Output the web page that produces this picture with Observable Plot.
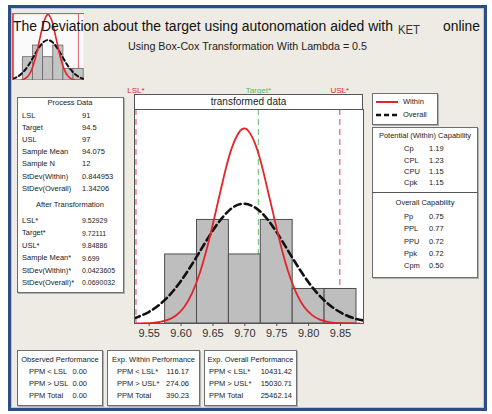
<!DOCTYPE html>
<html><head><meta charset="utf-8">
<script src="https://cdn.jsdelivr.net/npm/d3@7"></script>
<script src="https://cdn.jsdelivr.net/npm/@observablehq/plot@0.6"></script>
<style>
body{margin:0;background:#fff;font-family:"Liberation Sans",Arial,sans-serif;}
#root{position:relative;width:492px;height:414px;overflow:hidden;background:#fff;}
.panel{position:absolute;background:#fff;border:1px solid #6e6e6e;box-sizing:border-box;box-shadow:1px 1px 0 #b0b0b0;}
.t{position:absolute;white-space:nowrap;color:#222;line-height:1;}
</style></head><body><div id="root"></div>
<script>
// ---------- data ----------
const titleText = "The Deviation about the target using autonomation aided with";
const ketText = "KET";
const onlineText = "online";
const subtitleText = "Using Box-Cox Transformation With Lambda = 0.5";
const stripText = "transformed data";

const binCenters = [9.60, 9.65, 9.70, 9.75, 9.80, 9.85];
const binCounts = [2, 3, 2, 3, 1, 1];
const binWidth = 0.05;
const xTicks = [9.55, 9.60, 9.65, 9.70, 9.75, 9.80, 9.85];

const specNames = ["LSL*", "Target*", "USL*"];
const specValues = [9.52929, 9.72111, 9.84886];

const withinX = [9.530, 9.5425, 9.555, 9.5675, 9.580, 9.5925, 9.605, 9.6175, 9.630, 9.6425, 9.655, 9.6675, 9.680, 9.6925, 9.699, 9.705, 9.7175, 9.730, 9.7425, 9.755, 9.7675, 9.780, 9.7925, 9.805, 9.8175, 9.830, 9.8425, 9.855, 9.8675, 9.880];
const withinY = [0.00, 0.01, 0.02, 0.05, 0.11, 0.24, 0.48, 0.89, 1.50, 2.32, 3.29, 4.29, 5.11, 5.58, 5.65, 5.59, 5.14, 4.32, 3.34, 2.36, 1.53, 0.91, 0.49, 0.25, 0.11, 0.05, 0.02, 0.01, 0.00, 0.00];
const overallX = [9.525, 9.550, 9.575, 9.600, 9.625, 9.650, 9.675, 9.699, 9.725, 9.750, 9.775, 9.800, 9.825, 9.850, 9.875, 9.900];
const overallY = [0.14, 0.34, 0.69, 1.24, 1.95, 2.70, 3.27, 3.47, 3.23, 2.64, 1.89, 1.19, 0.66, 0.32, 0.13, 0.05];

const legendNames = ["Within", "Overall"];

const processTitle = "Process Data";
const processLabels = ["LSL", "Target", "USL", "Sample Mean", "Sample N", "StDev(Within)", "StDev(Overall)"];
const processValues = ["91", "94.5", "97", "94.075", "12", "0.844953", "1.34206"];
const transTitle = "After Transformation";
const transLabels = ["LSL*", "Target*", "USL*", "Sample Mean*", "StDev(Within)*", "StDev(Overall)*"];
const transValues = ["9.52929", "9.72111", "9.84886", "9.699", "0.0423605", "0.0690032"];

const potentialTitle = "Potential (Within) Capability";
const potentialLabels = ["Cp", "CPL", "CPU", "Cpk"];
const potentialValues = ["1.19", "1.23", "1.15", "1.15"];
const overallCapTitle = "Overall Capability";
const overallCapLabels = ["Pp", "PPL", "PPU", "Ppk", "Cpm"];
const overallCapValues = ["0.75", "0.77", "0.72", "0.72", "0.50"];

const perfTitles = ["Observed Performance", "Exp. Within Performance", "Exp. Overall Performance"];
const perfLabels = [
  ["PPM < LSL", "PPM > USL", "PPM Total"],
  ["PPM < LSL*", "PPM > USL*", "PPM Total"],
  ["PPM < LSL*", "PPM > USL*", "PPM Total"]
];
const perfValues = [
  ["0.00", "0.00", "0.00"],
  ["116.17", "274.06", "390.23"],
  ["10431.42", "15030.71", "25462.14"]
];

// ---------- helpers ----------
const root = document.getElementById("root");
function place(el, x, y, z) { el.style.position = "absolute"; el.style.left = x + "px"; el.style.top = y + "px"; if (z) el.style.zIndex = z; root.appendChild(el); return el; }
function box(x, y, w, h) { const d = document.createElement("div"); d.className = "panel"; d.style.width = w + "px"; d.style.height = h + "px"; return place(d, x, y); }
function txt(x, y, s, o = {}) {
  const size = o.size || 8;
  const d = document.createElement("div"); d.className = "t"; d.textContent = s;
  d.style.fontSize = size + "px"; d.style.color = o.color || "#222";
  const tx = o.anchor === "middle" ? "-50%" : o.anchor === "end" ? "-100%" : "0";
  d.style.transform = `translate(${tx},0)`;
  place(d, x, y - size * 0.55, o.z || 5);
  return d;
}

// outer frame
const frame = document.createElement("div");
frame.style.cssText = "width:479px;height:406px;box-sizing:border-box;border:3px solid #2D4E85;background:#EDEBE4;box-shadow:inset 0 0 0 1px #B8C6DD;";
place(frame, 8, 5);

// data objects
const bins = binCenters.map((c, i) => ({x1: c - binWidth / 2, x2: c + binWidth / 2, count: binCounts[i]}));
const within = withinX.map((x, i) => ({x, y: withinY[i]}));
const overall = overallX.map((x, i) => ({x, y: overallY[i]}));
const specs = specNames.map((name, i) => ({name, v: specValues[i]}));
const limits = specs.filter(d => d.name !== "Target*");
const target = specs.filter(d => d.name === "Target*");
const RED = "#E3242B", PINK = "#E0606C", GREEN = "#5DBB63";

// ---------- thumbnail ----------
const thumb = Plot.plot({
  width: 72, height: 67, margin: 0,
  x: {domain: [9.524, 9.879], axis: null},
  y: {domain: [0, 5.75], axis: null},
  style: {background: "transparent"},
  marks: [
    Plot.frame({fill: "#fafafa"}),
    Plot.ruleX(limits, {x: "v", stroke: PINK, strokeWidth: 1}),
    Plot.rectY(bins, {x1: "x1", x2: "x2", y: "count", fill: "#C4C4C4", stroke: "#666", strokeWidth: 0.8}),
    Plot.line(overall, {x: "x", y: "y", stroke: "#111", strokeWidth: 2, strokeDasharray: "4,3", curve: "natural", clip: true}),
    Plot.line(within, {x: "x", y: "y", stroke: RED, strokeWidth: 1.6, curve: "natural", clip: true}),
    Plot.frame({stroke: "#D9534F", strokeWidth: 1.2})
  ]
});
place(thumb, 12, 13, 2);

// ---------- title ----------
const ns = "http://www.w3.org/2000/svg";
const tsvg = document.createElementNS(ns, "svg");
tsvg.setAttribute("width", 492); tsvg.setAttribute("height", 60);
function stext(x, y, s, size, len, anchor, fill, weight) {
  const t = document.createElementNS(ns, "text");
  t.setAttribute("x", x); t.setAttribute("y", y);
  t.setAttribute("font-size", size); t.setAttribute("font-family", "Liberation Sans, Arial, sans-serif");
  t.setAttribute("fill", fill || "#111");
  if (weight) t.setAttribute("font-weight", weight);
  if (anchor) t.setAttribute("text-anchor", anchor);
  if (len) { t.setAttribute("textLength", len); t.setAttribute("lengthAdjust", "spacingAndGlyphs"); }
  t.textContent = s; tsvg.appendChild(t);
}
stext(13, 31, titleText, 14, 380, null, "#111", 500);
stext(398, 34, ketText, 12, 22, null, "#333");
stext(443, 31, onlineText, 14, 37, null, "#111", 500);
stext(128, 50, subtitleText, 10, 239, null, "#222");
place(tsvg, 0, 0, 6);

// ---------- main chart ----------
const main = Plot.plot({
  width: 250, height: 270,
  marginLeft: 10, marginRight: 11, marginTop: 31, marginBottom: 25,
  x: {domain: [9.527, 9.886]},
  y: {domain: [0, 6.2], axis: null},
  style: {fontFamily: "Liberation Sans, Arial, sans-serif", background: "transparent", overflow: "visible"},
  marks: [
    Plot.frame({fill: "#fff"}),
    Plot.ruleX(limits, {x: "v", stroke: PINK, strokeDasharray: "6,4", strokeWidth: 1.2}),
    Plot.ruleX(target, {x: "v", stroke: GREEN, strokeDasharray: "6,4", strokeWidth: 1}),
    Plot.rectY(bins, {x1: "x1", x2: "x2", y: "count", fill: "#BEBEBE", stroke: "#4d4d4d", strokeWidth: 1}),
    Plot.line(overall, {x: "x", y: "y", stroke: "#111", strokeWidth: 2.6, strokeDasharray: "7,4", curve: "natural", clip: true}),
    Plot.line(within, {x: "x", y: "y", stroke: RED, strokeWidth: 1.8, curve: "natural", clip: true}),
    Plot.text(limits, {x: "v", text: "name", frameAnchor: "top", dy: -22, fill: RED, fontSize: 8}),
    Plot.text(target, {x: "v", text: "name", frameAnchor: "top", dy: -22, fill: GREEN, fontSize: 8}),
    Plot.axisX(xTicks, {tickFormat: d3.format(".2f"), tickSize: 3, tickPadding: 3, fontSize: 11, stroke: "#555", fill: "#333"}),
    Plot.frame({stroke: "#555"})
  ]
});
place(main, 124, 78, 3);

// strip
const strip = document.createElement("div");
strip.style.cssText = "width:229px;height:16px;box-sizing:border-box;border:1px solid #555;background:#fff;";
place(strip, 134, 94, 3);
txt(248.5, 102, stripText, {size: 10, anchor: "middle"});

// ---------- left panel ----------
box(17, 97, 107, 196);
txt(70, 103, processTitle, {size: 7.5, anchor: "middle"});
const pY = [116, 128, 140, 152.5, 164.5, 177, 189];
processLabels.forEach((l, i) => { txt(22, pY[i], l, {size: 7.5}); txt(82, pY[i], processValues[i], {size: 7.5}); });
txt(70, 205, transTitle, {size: 7.5, anchor: "middle"});
const tY = [221, 233.5, 246, 258.5, 271, 283];
transLabels.forEach((l, i) => { txt(22, tY[i], l, {size: 7.5}); txt(82, tY[i], transValues[i], {size: 7}); });

// ---------- legend ----------
box(372, 93, 66, 32);
const lsvg = document.createElementNS(ns, "svg");
lsvg.setAttribute("width", 30); lsvg.setAttribute("height", 30);
[[9, RED, 2, null], [22, "#111", 2.6, "5,3"]].forEach(([y, c, w, da]) => {
  const l = document.createElementNS(ns, "line");
  l.setAttribute("x1", 2); l.setAttribute("x2", 24); l.setAttribute("y1", y); l.setAttribute("y2", y);
  l.setAttribute("stroke", c); l.setAttribute("stroke-width", w); if (da) l.setAttribute("stroke-dasharray", da);
  lsvg.appendChild(l);
});
place(lsvg, 374, 93, 4);
txt(403, 102, legendNames[0], {size: 7.5});
txt(403, 115, legendNames[1], {size: 7.5});

// ---------- capability ----------
box(372, 127, 106, 151);
const div = document.createElement("div");
div.style.cssText = "width:106px;height:0;border-top:1px solid #555;";
place(div, 372, 192, 4);
txt(425, 136, potentialTitle, {size: 7.5, anchor: "middle"});
const cY = [149, 161, 172, 183];
potentialLabels.forEach((l, i) => { txt(404, cY[i], l, {size: 7.5}); txt(429, cY[i], potentialValues[i], {size: 7.5}); });
txt(425, 203, overallCapTitle, {size: 7.5, anchor: "middle"});
const oY = [217, 229.5, 242, 254, 266];
overallCapLabels.forEach((l, i) => { txt(404, oY[i], l, {size: 7.5}); txt(429, oY[i], overallCapValues[i], {size: 7.5}); });

// ---------- bottom performance panels ----------
const pBoxes = [[17, 86, 60, 29, 87], [107, 93, 153.5, 117, 189], [204, 93, 250.5, 209, 292]];
const rY = [372.5, 384.5, 396.5];
pBoxes.forEach(([x, w, cx, lx, vx], k) => {
  box(x, 350, w, 56);
  txt(cx, 360, perfTitles[k], {size: 7.5, anchor: "middle"});
  perfLabels[k].forEach((l, i) => { txt(lx, rY[i], l, {size: 7.5}); txt(vx, rY[i], perfValues[k][i], {size: 7.5, anchor: "end"}); });
});
</script></body></html>
